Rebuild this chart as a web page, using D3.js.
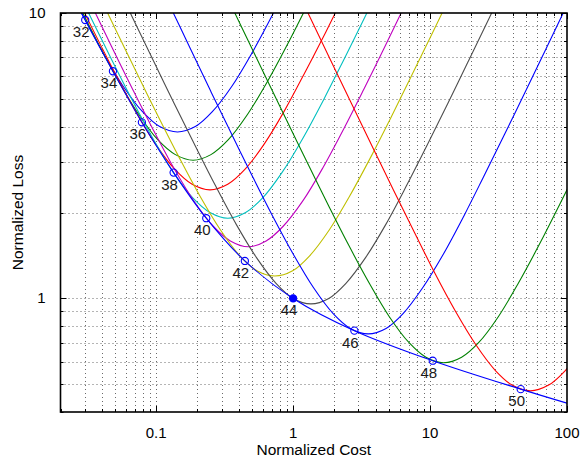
<!DOCTYPE html>
<html><head><meta charset="utf-8">
<script src="https://cdn.jsdelivr.net/npm/d3@7"></script>
<style>body{margin:0;background:#fff}svg{display:block;font-family:"Liberation Sans",Arial,Helvetica,sans-serif}</style>
</head><body><svg id="c" width="582" height="458"></svg>
<script>
// ---- data ----
const markerLabels = [32, 34, 36, 38, 40, 42, 44, 46, 48, 50];
const markerCost = [0.0303, 0.0483, 0.0786, 0.134, 0.232, 0.444, 1.0, 2.80, 10.46, 45.9];
const markerLoss = [9.45, 6.25, 4.14, 2.76, 1.91, 1.353, 1.0, 0.771, 0.605, 0.481];
const filledMarker = 44;

const envelopeCost = [0.0284, 0.0303, 0.0483, 0.0786, 0.134, 0.232, 0.444, 1.0, 2.80, 10.46, 45.9, 100];
const envelopeLoss = [10, 9.45, 6.25, 4.14, 2.76, 1.91, 1.353, 1.0, 0.771, 0.605, 0.481, 0.4295];

const cost32 = [0.0204,0.0286,0.0409,0.0572,0.0794,0.106,0.143,0.193,0.257,0.358,0.501,0.715,1.00];
const loss32 = [13.7,9.96,7.25,5.55,4.51,4.00,3.83,4.00,4.51,5.55,7.25,9.96,13.7];
const cost34 = [0.0186,0.0266,0.0372,0.0531,0.0744,0.103,0.138,0.186,0.251,0.335,0.465,0.651,0.930,1.30];
const loss34 = [15.4,10.9,7.93,5.77,4.42,3.59,3.19,3.05,3.19,3.59,4.42,5.77,7.93,10.9];
const cost36 = [0.0247,0.0352,0.0493,0.0704,0.0986,0.137,0.183,0.247,0.333,0.444,0.616,0.863,1.23,1.73,2.47];
const loss36 = [12.1,8.57,6.24,4.54,3.48,2.83,2.51,2.40,2.51,2.83,3.48,4.54,6.24,8.57,12.1];
const cost38 = [0.0238,0.0333,0.0476,0.0666,0.0951,0.133,0.185,0.247,0.333,0.450,0.599,0.833,1.17,1.67,2.33,3.33,4.66];
const loss38 = [13.4,9.65,6.82,4.97,3.62,2.77,2.25,2.00,1.91,2.00,2.25,2.77,3.62,4.97,6.82,9.65,13.4];
const cost40 = [0.0235,0.0336,0.0470,0.0671,0.0940,0.134,0.188,0.261,0.348,0.470,0.635,0.846,1.18,1.65,2.35,3.29,4.70,6.58,9.40];
const loss40 = [15.2,10.7,7.66,5.42,3.94,2.87,2.20,1.79,1.59,1.517,1.59,1.79,2.20,2.87,3.94,5.42,7.66,10.7,15.2];
const cost42 = [0.0368,0.0525,0.0735,0.105,0.147,0.210,0.294,0.408,0.544,0.735,0.992,1.32,1.84,2.57,3.68,5.15,7.35,10.3,14.7];
const loss42 = [12.0,8.43,6.05,4.28,3.12,2.27,1.74,1.41,1.25,1.198,1.25,1.41,1.74,2.27,3.12,4.28,6.05,8.43,12.0];
const cost44 = [0.0450,0.0675,0.0964,0.135,0.193,0.270,0.386,0.540,0.750,1.00,1.35,1.82,2.43,3.38,4.73,6.75,9.45,13.5,18.9,27.0,40.5];
const loss44 = [14.4,9.59,6.73,4.83,3.42,2.49,1.81,1.39,1.13,1.00,0.957,1.00,1.13,1.39,1.81,2.49,3.42,4.83,6.73,9.59,14.4];
const cost46 = [0.0883,0.118,0.177,0.252,0.353,0.504,0.706,1.01,1.41,1.96,2.62,3.53,4.77,6.35,8.83,12.4,17.7,24.7,35.3,49.4,70.6,106];
const loss46 = [15.0,11.3,7.53,5.28,3.79,2.68,1.95,1.42,1.09,0.885,0.785,0.751,0.785,0.885,1.09,1.42,1.95,2.68,3.79,5.28,7.53,11.3];
const cost48 = [0.315,0.420,0.630,0.900,1.26,1.80,2.52,3.60,5.04,7.00,9.33,12.6,17.0,22.7,31.5,44.1,63.0,88.2,126];
const loss48 = [11.9,8.94,5.97,4.19,3.01,2.13,1.55,1.13,0.863,0.701,0.622,0.595,0.622,0.701,0.863,1.13,1.55,2.13,3.01];
const cost50 = [1.08,1.35,1.80,2.70,3.86,5.40,7.71,10.8,15.4,21.6,30.0,40.0,54.0,72.9,97.2,135];
const loss50 = [11.9,9.50,7.13,4.76,3.34,2.40,1.70,1.23,0.898,0.688,0.559,0.496,0.4745,0.496,0.559,0.688];

const curveCosts = [cost32, cost34, cost36, cost38, cost40, cost42, cost44, cost46, cost48, cost50];
const curveLosses = [loss32, loss34, loss36, loss38, loss40, loss42, loss44, loss46, loss48, loss50];
const curveColors = ["#0000ff","#008000","#ff0000","#00bfbf","#bf00bf","#bfbf00","#4d4d4d","#0000ff","#008000","#ff0000"];

const xDomain = [0.02, 100];
const yDomain = [0.4, 10];
const xTickLabels = [0.1, 1, 10, 100];
const yTickLabels = [1, 10];
const xTitle = "Normalized Cost";
const yTitle = "Normalized Loss";

// ---- drawing ----
const svg = d3.select("#c");
const L = 60.5, R = 567, T = 13, B = 412;
const x = d3.scaleLog().domain(xDomain).range([L, R]);
const y = d3.scaleLog().domain(yDomain).range([B, T]);

svg.append("defs").append("clipPath").attr("id","clip")
  .append("rect").attr("x",L).attr("y",T).attr("width",R-L).attr("height",B-T);

const xt = x.ticks(), yt = y.ticks();
const isMajor = v => Math.abs(Math.log10(v) - Math.round(Math.log10(v))) < 1e-9;

// grid
const grid = svg.append("g").attr("stroke","#6a6a6a").attr("stroke-width",1).attr("stroke-dasharray","1,3");
xt.filter(v => v > xDomain[0]*1.001 && v < xDomain[1]*0.999).forEach(v => {
  grid.append("line").attr("x1",Math.round(x(v))+0.5).attr("x2",Math.round(x(v))+0.5).attr("y1",T).attr("y2",B);
});
yt.filter(v => v > yDomain[0]*1.001 && v < yDomain[1]*0.999).forEach(v => {
  grid.append("line").attr("y1",Math.round(y(v))+0.5).attr("y2",Math.round(y(v))+0.5).attr("x1",L).attr("x2",R);
});

// curves
const line = d3.line().x(d => x(d[0])).y(d => y(d[1])).curve(d3.curveCatmullRom.alpha(0.5));
const plot = svg.append("g").attr("clip-path","url(#clip)");
curveCosts.forEach((cs, i) => {
  const pts = cs.map((c, j) => [c, curveLosses[i][j]]);
  plot.append("path").attr("d", line(pts)).attr("fill","none")
    .attr("stroke", curveColors[i]).attr("stroke-width",1.1);
});
plot.append("path").attr("d", line(envelopeCost.map((c,j)=>[c, envelopeLoss[j]])))
  .attr("fill","none").attr("stroke","#0000ff").attr("stroke-width",1.1);

// markers + labels
markerCost.forEach((c, i) => {
  const cx = x(c), cy = y(markerLoss[i]);
  svg.append("circle").attr("cx",cx).attr("cy",cy).attr("r",3.6)
    .attr("fill", markerLabels[i] === filledMarker ? "#0000ff" : "none")
    .attr("stroke","#0000ff").attr("stroke-width",1.1);
  svg.append("text").attr("x",cx-4).attr("y",cy+17).attr("text-anchor","middle")
    .attr("font-size",15).attr("fill","#1a1a1a").text(markerLabels[i]);
});

// ticks on all four sides
const tk = svg.append("g").attr("stroke","#000").attr("stroke-width",1);
xt.forEach(v => {
  const len = isMajor(v) ? 6 : 3, px = Math.round(x(v))+0.5;
  tk.append("line").attr("x1",px).attr("x2",px).attr("y1",B).attr("y2",B-len);
  tk.append("line").attr("x1",px).attr("x2",px).attr("y1",T).attr("y2",T+len);
});
yt.forEach(v => {
  const len = isMajor(v) ? 6 : 3, py = Math.round(y(v))+0.5;
  tk.append("line").attr("y1",py).attr("y2",py).attr("x1",L).attr("x2",L+len);
  tk.append("line").attr("y1",py).attr("y2",py).attr("x1",R).attr("x2",R-len);
});

// frame
svg.append("rect").attr("x",L).attr("y",T).attr("width",R-L).attr("height",B-T)
  .attr("fill","none").attr("stroke","#000").attr("stroke-width",1.6);

// tick labels
xTickLabels.forEach(v => {
  svg.append("text").attr("x",x(v)).attr("y",B+26).attr("text-anchor","middle")
    .attr("font-size",15).attr("fill","#000").text(d3.format("~g")(v));
});
yTickLabels.forEach(v => {
  svg.append("text").attr("x",L-15).attr("y",y(v)+5).attr("text-anchor","end")
    .attr("font-size",15).attr("fill","#000").text(d3.format("~g")(v));
});

// axis titles
svg.append("text").attr("x",(L+R)/2).attr("y",B+43).attr("text-anchor","middle")
  .attr("font-size",15.5).attr("fill","#000").text(xTitle);
svg.append("text").attr("transform",`translate(23,${(T+B)/2}) rotate(-90)`)
  .attr("text-anchor","middle").attr("font-size",15.5).attr("fill","#000").text(yTitle);
</script>
</body></html>
